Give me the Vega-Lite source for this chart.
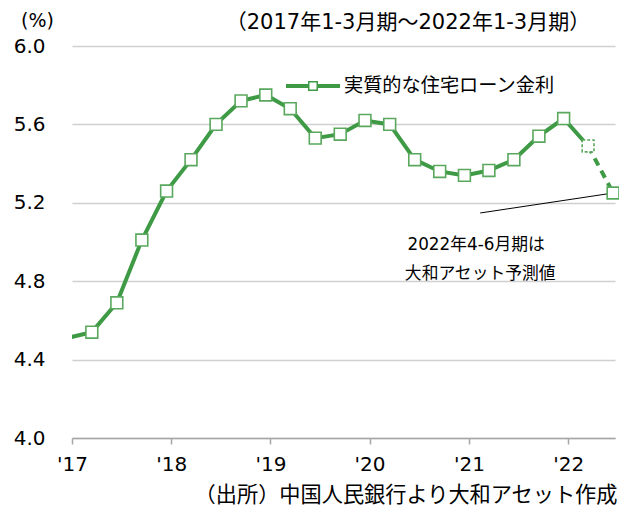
{
  "$schema": "https://vega.github.io/schema/vega-lite/v6.json",
  "width": 543,
  "height": 392,
  "autosize": {"type": "none"},
  "padding": {"left": 72, "top": 46, "right": 4, "bottom": 68},
  "background": "white",
  "config": {
    "view": {"stroke": null},
    "font": "DejaVu Sans, Noto Sans CJK JP",
    "axis": {"labelFont": "DejaVu Sans, Noto Sans CJK JP", "titleFont": "DejaVu Sans, Noto Sans CJK JP"},
    "legend": {"labelFont": "Noto Sans CJK JP"}
  },
  "title": {
    "text": "（2017年1-3月期～2022年1-3月期）",
    "anchor": "end",
    "dx": -32,
    "offset": -22,
    "fontSize": 21,
    "fontWeight": "normal",
    "color": "#000000",
    "font": "DejaVu Sans, Noto Sans CJK JP"
  },
  "datasets": {
    "rate": [
      {"q": "2016Q4", "date": "2016-12-15", "value": 4.51, "series": "実質的な住宅ローン金利"},
      {"q": "2017Q1", "date": "2017-03-15", "value": 4.54, "series": "実質的な住宅ローン金利"},
      {"q": "2017Q2", "date": "2017-06-15", "value": 4.69, "series": "実質的な住宅ローン金利"},
      {"q": "2017Q3", "date": "2017-09-15", "value": 5.01, "series": "実質的な住宅ローン金利"},
      {"q": "2017Q4", "date": "2017-12-15", "value": 5.26, "series": "実質的な住宅ローン金利"},
      {"q": "2018Q1", "date": "2018-03-15", "value": 5.42, "series": "実質的な住宅ローン金利"},
      {"q": "2018Q2", "date": "2018-06-15", "value": 5.60, "series": "実質的な住宅ローン金利"},
      {"q": "2018Q3", "date": "2018-09-15", "value": 5.72, "series": "実質的な住宅ローン金利"},
      {"q": "2018Q4", "date": "2018-12-15", "value": 5.75, "series": "実質的な住宅ローン金利"},
      {"q": "2019Q1", "date": "2019-03-15", "value": 5.68, "series": "実質的な住宅ローン金利"},
      {"q": "2019Q2", "date": "2019-06-15", "value": 5.53, "series": "実質的な住宅ローン金利"},
      {"q": "2019Q3", "date": "2019-09-15", "value": 5.55, "series": "実質的な住宅ローン金利"},
      {"q": "2019Q4", "date": "2019-12-15", "value": 5.62, "series": "実質的な住宅ローン金利"},
      {"q": "2020Q1", "date": "2020-03-15", "value": 5.60, "series": "実質的な住宅ローン金利"},
      {"q": "2020Q2", "date": "2020-06-15", "value": 5.42, "series": "実質的な住宅ローン金利"},
      {"q": "2020Q3", "date": "2020-09-15", "value": 5.36, "series": "実質的な住宅ローン金利"},
      {"q": "2020Q4", "date": "2020-12-15", "value": 5.34, "series": "実質的な住宅ローン金利"},
      {"q": "2021Q1", "date": "2021-03-15", "value": 5.365, "series": "実質的な住宅ローン金利"},
      {"q": "2021Q2", "date": "2021-06-15", "value": 5.42, "series": "実質的な住宅ローン金利"},
      {"q": "2021Q3", "date": "2021-09-15", "value": 5.54, "series": "実質的な住宅ローン金利"},
      {"q": "2021Q4", "date": "2021-12-15", "value": 5.63, "series": "実質的な住宅ローン金利"},
      {"q": "2022Q1", "date": "2022-03-15", "value": 5.49, "series": "実質的な住宅ローン金利"},
      {"q": "2022Q2", "date": "2022-06-15", "value": 5.25, "series": "実質的な住宅ローン金利"}
    ],
    "notes": [
      {"date": "2021-01-27", "value": 4.985, "label": "2022年4-6月期は"},
      {"date": "2021-02-11", "value": 4.837, "label": "大和アセット予測値"}
    ],
    "leader": [
      {"date": "2021-02-11", "value": 5.148, "date2": "2022-06-15", "value2": 5.25}
    ]
  },
  "data": {"name": "rate"},
  "encoding": {
    "x": {
      "field": "date",
      "type": "temporal",
      "scale": {
        "type": "utc",
        "domain": [
          {"year": 2017, "month": 1, "date": 1, "utc": true},
          {"year": 2022, "month": 6, "date": 22, "utc": true}
        ]
      },
      "axis": {
        "values": [
          {"year": 2017, "month": 1, "date": 1, "utc": true},
          {"year": 2018, "month": 1, "date": 1, "utc": true},
          {"year": 2019, "month": 1, "date": 1, "utc": true},
          {"year": 2020, "month": 1, "date": 1, "utc": true},
          {"year": 2021, "month": 1, "date": 1, "utc": true},
          {"year": 2022, "month": 1, "date": 1, "utc": true}
        ],
        "labelExpr": "\"'\" + utcFormat(datum.value, '%y')",
        "labelFlush": false,
        "labelOverlap": false,
        "grid": false,
        "domainColor": "#a6a6a6",
        "domainWidth": 1.5,
        "tickColor": "#a6a6a6",
        "tickWidth": 1.5,
        "tickSize": 6,
        "labelFontSize": 20,
        "labelColor": "#000000",
        "labelPadding": 10,
        "title": "（出所）中国人民銀行より大和アセット作成",
        "titleFontSize": 21.2,
        "titleFontWeight": "normal",
        "titleColor": "#000000",
        "titleX": 545,
        "titleY": 57,
        "titleAlign": "right",
        "titleBaseline": "middle",
        "titleAnchor": null
      }
    },
    "y": {
      "field": "value",
      "type": "quantitative",
      "scale": {"domain": [4, 6], "nice": false, "zero": false},
      "axis": {
        "values": [4, 4.4, 4.8, 5.2, 5.6, 6],
        "format": ".1f",
        "domain": false,
        "ticks": false,
        "grid": true,
        "gridColor": "#d0d0d0",
        "gridWidth": 1.3,
        "labelFontSize": 20,
        "labelColor": "#000000",
        "labelPadding": 27,
        "title": "(%)",
        "titleAngle": 0,
        "titleX": -35,
        "titleY": -26,
        "titleAlign": "center",
        "titleBaseline": "middle",
        "titleFontSize": 19,
        "titleFontWeight": "normal",
        "titleColor": "#000000"
      }
    }
  },
  "layer": [
    {
      "data": {"name": "leader"},
      "mark": {"type": "rule", "color": "#000000", "strokeWidth": 1},
      "encoding": {
        "x2": {"field": "date2"},
        "y2": {"field": "value2"}
      }
    },
    {
      "transform": [{"filter": "datum.q !== '2022Q2'"}],
      "mark": {"type": "line", "clip": true, "strokeWidth": 4},
      "encoding": {
        "color": {
          "field": "series",
          "type": "nominal",
          "scale": {"range": ["#3e9a44"]},
          "legend": {
            "orient": "none",
            "legendX": 214,
            "legendY": 13,
            "title": null,
            "padding": 0,
            "labelFontSize": 19.2,
            "labelLimit": 400,
            "labelColor": "#000000",
            "labelOffset": 4,
            "symbolSize": 2916,
            "symbolType": "M-1,-0.074H-0.185V0.074H-1Z M0.185,-0.074H1V0.074H0.185Z M-0.185,-0.185H0.185V0.185H-0.185Z M-0.13,-0.13V0.13H0.13V-0.13Z",
            "encode": {
              "symbols": {
                "update": {
                  "fill": {"value": "#3e9a44"},
                  "stroke": {"value": "transparent"},
                  "strokeWidth": {"value": 0},
                  "opacity": {"value": 1}
                }
              }
            }
          }
        }
      }
    },
    {
      "transform": [{"filter": "datum.q === '2022Q1' || datum.q === '2022Q2'"}],
      "mark": {"type": "line", "clip": true, "strokeWidth": 4, "color": "#3e9a44", "strokeDash": [8, 6]}
    },
    {
      "transform": [{"filter": "datum.q !== '2016Q4' && datum.q !== '2022Q1'"}],
      "mark": {"type": "point", "shape": "square", "filled": true, "fill": "#ffffff", "stroke": "#5aa85e", "strokeWidth": 1.6, "size": 140, "opacity": 1}
    },
    {
      "transform": [{"filter": "datum.q === '2022Q1'"}],
      "mark": {"type": "point", "shape": "square", "filled": true, "fill": "#ffffff", "stroke": "#5aa85e", "strokeWidth": 1.6, "size": 140, "opacity": 1, "strokeDash": [3, 2]}
    },
    {
      "data": {"name": "notes"},
      "mark": {"type": "text", "fontSize": 16.8, "align": "center", "baseline": "middle", "color": "#000000", "font": "DejaVu Sans, Noto Sans CJK JP"},
      "encoding": {"text": {"field": "label"}}
    }
  ]
}
